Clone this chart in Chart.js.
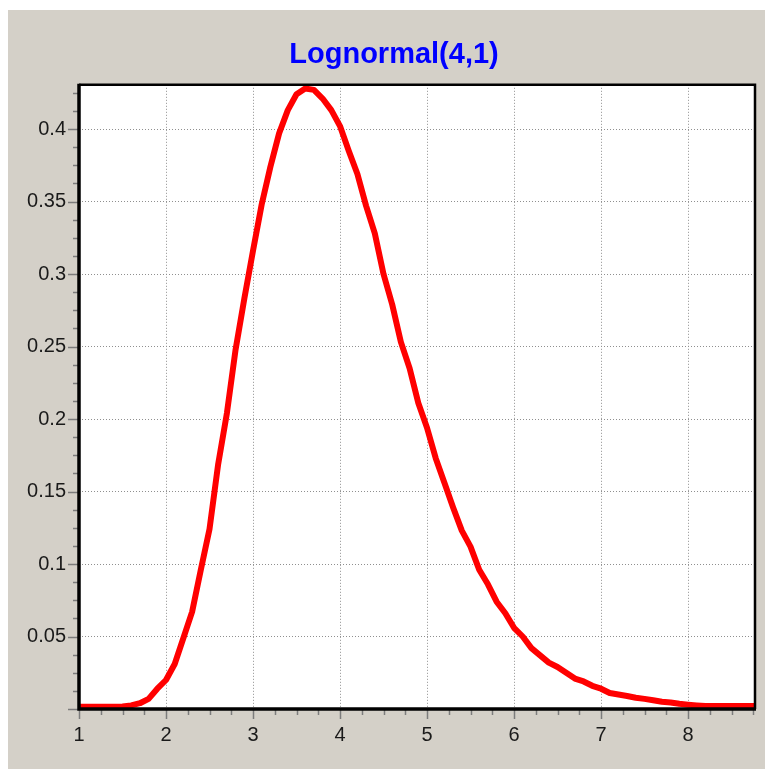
<!DOCTYPE html>
<html lang="en">
<head>
<meta charset="utf-8">
<title>Lognormal(4,1)</title>
<script src="https://cdn.jsdelivr.net/npm/chart.js@4.4.1/dist/chart.umd.min.js"></script>
<style>
  html, body { margin: 0; padding: 0; background: #fff; }
  #panel { position: absolute; left: 8px; top: 10px; width: 757px; height: 759px; background: #d4d0c8; }
  #chart { display: block; }
</style>
</head>
<body>
<div id="panel"><canvas id="chart" width="757" height="759"></canvas></div>
<script>
/* global Chart */
const TITLE = "Lognormal(4,1)";

// 曲線
const X_VALUES = [
  1.0, 1.1, 1.2, 1.3, 1.4, 1.5, 1.6, 1.7, 1.8, 1.9,
  2.0, 2.1, 2.2, 2.3, 2.4, 2.5, 2.6, 2.7, 2.8, 2.9,
  3.0, 3.1, 3.2, 3.3, 3.4, 3.5, 3.6, 3.7, 3.8, 3.9,
  4.0, 4.1, 4.2, 4.3, 4.4, 4.5, 4.6, 4.7, 4.8, 4.9,
  5.0, 5.1, 5.2, 5.3, 5.4, 5.5, 5.6, 5.7, 5.8, 5.9,
  6.0, 6.1, 6.2, 6.3, 6.4, 6.5, 6.6, 6.7, 6.8, 6.9,
  7.0, 7.1, 7.2, 7.3, 7.4, 7.5, 7.6, 7.7, 7.8, 7.9,
  8.0, 8.1, 8.2, 8.3, 8.4, 8.5, 8.6, 8.7, 8.8
];
const DENSITY = [
  0.0015, 0.0015, 0.0015, 0.0015, 0.0015, 0.0018, 0.0025, 0.004, 0.007, 0.014,
  0.020, 0.031, 0.049, 0.067, 0.096, 0.124, 0.169, 0.204, 0.248, 0.283,
  0.316, 0.348, 0.374, 0.397, 0.413, 0.424, 0.428, 0.427, 0.421, 0.413,
  0.402, 0.385, 0.369, 0.347, 0.328, 0.300, 0.279, 0.253, 0.235, 0.211,
  0.194, 0.173, 0.156, 0.139, 0.123, 0.112, 0.096, 0.086, 0.074, 0.066,
  0.056, 0.050, 0.042, 0.037, 0.032, 0.029, 0.025, 0.021, 0.019, 0.016,
  0.014, 0.011, 0.010, 0.009, 0.0078, 0.007, 0.006, 0.005, 0.0045, 0.0036,
  0.003, 0.0025, 0.002, 0.002, 0.002, 0.002, 0.002, 0.002, 0.002
];

// 軸
const X_TICKS = [1, 2, 3, 4, 5, 6, 7, 8];
const Y_TICKS = [0.05, 0.1, 0.15, 0.2, 0.25, 0.3, 0.35, 0.4];
const X_MIN = 1, X_MAX = 8.77;
const Y_MIN = 0, Y_MAX = 0.4305;
const X_MINOR = 0.25, Y_MINOR = 0.0125;

const $ = (id) => document.getElementById(id);

// 目盛り（小目盛り含む）と黒い枠線
const framePlugin = {
  id: "frame",
  afterDraw(chart) {
    const { ctx, chartArea: a, scales } = chart;
    const sx = scales.x, sy = scales.y;
    ctx.save();
    ctx.strokeStyle = "#7c7c7c";
    ctx.lineWidth = 1.5;
    ctx.beginPath();
    const nx = Math.floor((X_MAX - X_MIN) / X_MINOR + 1e-6);
    for (let i = 0; i <= nx; i++) {
      const v = X_MIN + i * X_MINOR;
      const px = Math.round(sx.getPixelForValue(v)) + 0.5;
      const len = i % 4 === 0 ? 10 : 6;
      ctx.moveTo(px, a.bottom);
      ctx.lineTo(px, a.bottom + len);
    }
    const ny = Math.floor((Y_MAX - Y_MIN) / Y_MINOR + 1e-6);
    for (let i = 0; i <= ny; i++) {
      const v = Y_MIN + i * Y_MINOR;
      const py = Math.round(sy.getPixelForValue(v)) + 0.5;
      const len = i % 4 === 0 ? 11 : 6;
      ctx.moveTo(a.left, py);
      ctx.lineTo(a.left - len, py);
    }
    ctx.stroke();

    ctx.strokeStyle = "#000";
    ctx.lineWidth = 2.5;
    ctx.beginPath();
    ctx.moveTo(a.left, a.top); ctx.lineTo(a.right, a.top); ctx.lineTo(a.right, a.bottom);
    ctx.stroke();
    ctx.lineWidth = 3.5;
    ctx.beginPath();
    ctx.moveTo(a.left, a.top - 1); ctx.lineTo(a.left, a.bottom); ctx.lineTo(a.right + 1, a.bottom);
    ctx.stroke();
    ctx.restore();
  }
};

// プロット領域を白く塗る
const bgPlugin = {
  id: "plotBg",
  beforeDraw(chart) {
    const { ctx, chartArea: a } = chart;
    ctx.save();
    ctx.fillStyle = "#fff";
    ctx.fillRect(a.left, a.top, a.right - a.left, a.bottom - a.top);
    ctx.restore();
  }
};

const gridOpts = {
  color: "#8f8f8f",
  lineWidth: 1,
  drawTicks: false
};

new Chart($("chart").getContext("2d"), {
  type: "line",
  data: {
    datasets: [{
      label: TITLE,
      data: X_VALUES.map((x, i) => ({ x, y: DENSITY[i] })),
      borderColor: "#ff0000",
      borderWidth: 6,
      borderJoinStyle: "round",
      borderCapStyle: "round",
      pointRadius: 0,
      tension: 0,
      fill: false
    }]
  },
  options: {
    responsive: false,
    animation: false,
    layout: { padding: { left: 25, right: 10, top: 0, bottom: 0 } },
    plugins: {
      legend: { display: false },
      tooltip: { enabled: false },
      title: {
        display: true,
        text: TITLE,
        color: "#0000ff",
        font: { family: "'Liberation Sans', Arial, sans-serif", size: 29, weight: "bold" },
        padding: { top: 28, bottom: 12 }
      }
    },
    scales: {
      x: {
        type: "linear",
        min: X_MIN,
        max: X_MAX,
        afterBuildTicks: (axis) => { axis.ticks = X_TICKS.map(v => ({ value: v })); },
        afterFit: (axis) => { axis.height = 60; },
        grid: gridOpts,
        border: { display: false, dash: [1, 2] },
        ticks: {
          color: "#1a1a1a",
          padding: 14,
          maxRotation: 0,
          font: { family: "'Liberation Sans', Arial, sans-serif", size: 20 },
          callback: (v) => String(v)
        }
      },
      y: {
        type: "linear",
        min: Y_MIN,
        max: Y_MAX,
        afterBuildTicks: (axis) => { axis.ticks = Y_TICKS.map(v => ({ value: v })); },
        afterFit: (axis) => {
          axis.width = 46;
          // ラベルが軸の箱からはみ出すので切り取りを無効にする
          axis._computeLabelArea = () => undefined;
        },
        grid: gridOpts,
        border: { display: false, dash: [1, 2] },
        ticks: {
          color: "#1a1a1a",
          padding: 13,
          font: { family: "'Liberation Sans', Arial, sans-serif", size: 20 },
          callback: (v) => String(v)
        }
      }
    }
  },
  plugins: [bgPlugin, framePlugin]
});
</script>
</body>
</html>
